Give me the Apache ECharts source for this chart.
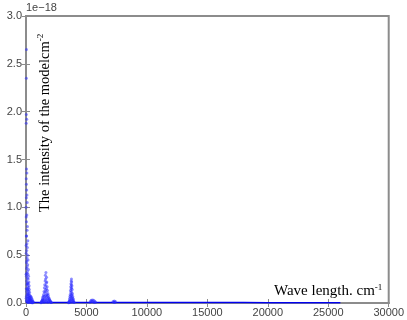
<!DOCTYPE html>
<html><head><meta charset="utf-8">
<script src="https://cdn.jsdelivr.net/npm/echarts@6/dist/echarts.min.js"></script>
<style>html,body{margin:0;padding:0;background:#fff}#c{width:407px;height:320px}</style>
</head><body><div id="c"></div>
<script>
// x: wavenumber (cm^-1), y: intensity in units of 1e-18
const xTicks = [0, 5000, 10000, 15000, 20000, 25000, 30000];
const yTicks = [0.0, 0.5, 1.0, 1.5, 2.0, 2.5, 3.0];
const clusterA_x = [40,30,25,60,20,45,70,35,55,80,30,100,65,40,120,90,50,150,75,110,60,130,85,170,45,140,95,200,120,70,160,210,105,180,55,240,135,190,80,260,150,220,110,280,170,60,230,300,130,200,90,320,250,160,40,340,270,190,120,360,300,210,70,380,330,250,150,400,350,280,100,420,230,180,450,500,30,15,25,35,50,65,20,100,140,175,210,260,310,10,12,18,8,22,28,480,520,560,440,470,510,540,580,600,390,430];
const clusterA_y = [2.65,2.35,1.97,1.92,1.88,1.40,1.36,1.24,1.18,1.13,1.10,1.05,0.92,0.85,0.80,0.76,0.70,0.65,0.62,0.58,0.55,0.50,0.47,0.45,0.42,0.40,0.38,0.35,0.33,0.31,0.30,0.28,0.26,0.25,0.23,0.22,0.21,0.20,0.19,0.18,0.17,0.16,0.15,0.14,0.13,0.12,0.12,0.11,0.10,0.10,0.09,0.08,0.08,0.07,0.07,0.06,0.06,0.05,0.05,0.04,0.04,0.03,0.03,0.03,0.02,0.02,0.02,0.015,0.01,0.01,0.01,0.008,0.006,0.005,0.004,0.003,0.02,0.05,0.15,0.28,0.36,0.44,0.52,0.20,0.14,0.09,0.06,0.04,0.025,0.3,0.6,0.9,1.0,1.3,0.7,0.012,0.006,0.003,0.05,0.03,0.04,0.02,0.015,0.01,0.07,0.06];
const clusterB_x = [1650,1600,1700,1620,1580,1720,1680,1550,1640,1750,1520,1700,1600,1780,1490,1660,1560,1810,1460,1720,1630,1840,1430,1540,1760,1870,1400,1690,1590,1900,1380,1800,1500,1930,1360,1650,1960,1340,1740,1450,1990,1320,1850,1560,2020,1300,1700,1420,2050,1280,1900,1600,2080,1260,1780,1480,2100,1240];
const clusterB_y = [0.32,0.29,0.27,0.25,0.23,0.22,0.21,0.19,0.18,0.17,0.16,0.15,0.14,0.13,0.12,0.12,0.11,0.10,0.09,0.09,0.08,0.08,0.07,0.07,0.07,0.06,0.06,0.06,0.05,0.05,0.045,0.045,0.04,0.04,0.035,0.035,0.03,0.03,0.03,0.025,0.025,0.02,0.02,0.02,0.015,0.015,0.015,0.012,0.01,0.01,0.01,0.01,0.006,0.006,0.005,0.005,0.004,0.003];
const clusterC_x = [3760,3740,3780,3720,3750,3800,3700,3770,3730,3820,3680,3760,3710,3840,3660,3790,3740,3860,3640,3700,3810,3880,3620,3760,3900,3600,3680,3840,3920,3580,3730,3940,3560,3800,3960,3540,3660,3980,3520];
const clusterC_y = [0.25,0.23,0.22,0.20,0.19,0.18,0.17,0.16,0.15,0.14,0.13,0.12,0.11,0.10,0.09,0.09,0.08,0.07,0.07,0.06,0.06,0.05,0.05,0.045,0.04,0.035,0.03,0.03,0.025,0.02,0.02,0.015,0.012,0.01,0.008,0.006,0.005,0.004,0.003];
const clusterD_x = [5400,5500,5600,5350,5700,5450,5550,5300,5750,5650,7200,7300,7400,7250,7350];
const clusterD_y = [0.03,0.032,0.028,0.02,0.018,0.015,0.012,0.008,0.008,0.005,0.015,0.02,0.015,0.008,0.006];
const baseline_x = [0,2000,4000,6000,8000,10000,12000,14000,16000,18000,20000,22000,24000,26000];
const baseline_y = [0.005,0.005,0.005,0.005,0.004,0.004,0.004,0.004,0.004,0.004,0.003,0.003,0.003,0.003];

function zip(xs, ys){ return xs.map((x,i)=>[x, ys[i]]); }
const pts = [].concat(zip(clusterA_x,clusterA_y), zip(clusterB_x,clusterB_y), zip(clusterC_x,clusterC_y), zip(clusterD_x,clusterD_y));

const chart = echarts.init(document.getElementById('c'), null, {renderer:'canvas'});
const axisCol = '#8c8c8c';
const labelCol = '#444';
chart.setOption({
  animation:false,
  grid:{left:26, right:13, top:16, bottom:17, show:true, borderColor:axisCol, borderWidth:2},
  xAxis:[{type:'value', min:xTicks[0], max:xTicks[xTicks.length-1], interval:5000,
    axisLine:{lineStyle:{color:axisCol,width:2}},
    axisTick:{inside:true,length:4,lineStyle:{color:axisCol}},
    axisLabel:{color:labelCol,fontSize:11,fontFamily:'Liberation Sans',margin:4,showMaxLabel:true,formatter:v=>String(v)},
    splitLine:{show:false}},
    {type:'value', position:'top', min:0, max:30000, interval:5000,
    axisLine:{lineStyle:{color:axisCol,width:2}},
    axisTick:{inside:true,length:4,lineStyle:{color:axisCol}},
    axisLabel:{show:false}, splitLine:{show:false}}],
  yAxis:[{type:'value', min:yTicks[0], max:yTicks[yTicks.length-1], interval:0.5,
    axisLine:{lineStyle:{color:axisCol,width:2}},
    axisTick:{inside:true,length:4,lineStyle:{color:axisCol}},
    axisLabel:{color:labelCol,fontSize:11,fontFamily:'Liberation Sans',margin:4,formatter:v=>v.toFixed(1)},
    splitLine:{show:false}},
    {type:'value', position:'right', min:0, max:3, interval:0.5,
    axisLine:{lineStyle:{color:axisCol,width:2}},
    axisTick:{inside:true,length:4,lineStyle:{color:axisCol}},
    axisLabel:{show:false}, splitLine:{show:false}}],
  series:[
    {type:'line', data:zip(baseline_x,baseline_y), symbol:'none', lineStyle:{color:'#0000ee',width:1.5}, z:2},
    {type:'scatter', data:pts, symbolSize:3, itemStyle:{color:'rgba(40,40,255,0.65)'}, z:3}
  ],
  graphic:[
    {type:'text', left:26, top:2, style:{text:'1e\u221218', fill:labelCol, font:'11px "Liberation Sans"'}},
    {type:'text', x:36, y:212, rotation:Math.PI/2, style:{
      text:'{a|The intensity of the modelcm}{s|-2}', fill:'#000',
      rich:{a:{font:'14.5px "Liberation Serif"', fill:'#000', verticalAlign:'bottom'}, s:{font:'9px "Liberation Serif"', fill:'#000', verticalAlign:'top', padding:[0,0,8,0]}}
    }},
    {type:'text', x:274, y:283, style:{
      text:'{a|Wave length. cm}{s|-1}',
      rich:{a:{font:'15px "Liberation Serif"', fill:'#000'}, s:{font:'9px "Liberation Serif"', fill:'#000', padding:[0,0,8,0]}}
    }}
  ]
});
</script></body></html>
